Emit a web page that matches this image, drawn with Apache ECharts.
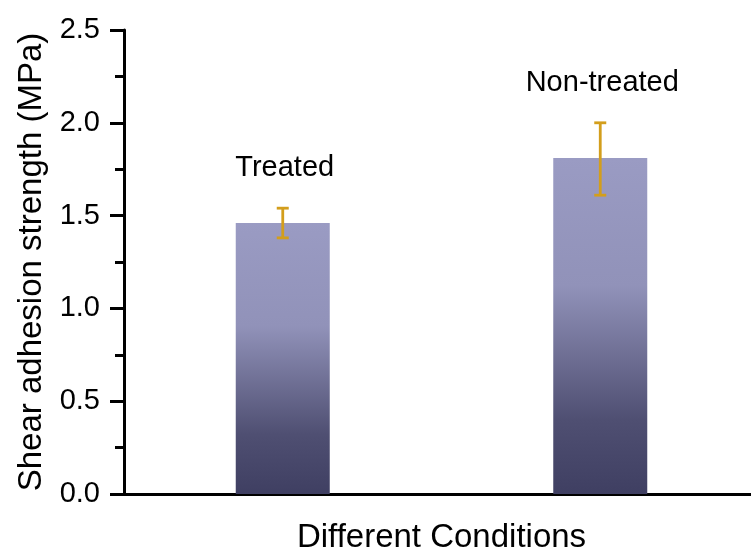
<!DOCTYPE html>
<html>
<head>
<meta charset="utf-8">
<script src="https://cdn.jsdelivr.net/npm/echarts@6/dist/echarts.min.js"></script>
<style>
  html, body { margin: 0; padding: 0; background: #ffffff; }
  #chart { width: 751px; height: 556px; }
</style>
</head>
<body>
<div id="chart"></div>
<script>
// Shear adhesion strength per surface condition
const categories = ['Treated', 'Non-treated'];
const strength = [1.46, 1.81];
const errLow = [1.38, 1.61];
const errHigh = [1.54, 2.00];
const yTicks = [0, 0.5, 1.0, 1.5, 2.0, 2.5];

const FONT = '"Liberation Sans", Arial, sans-serif';

const chart = echarts.init(document.getElementById('chart'), null, { renderer: 'canvas' });

const barGradient = new echarts.graphic.LinearGradient(0, 0, 0, 1, [
  { offset: 0, color: '#9a9bc3' },
  { offset: 0.38, color: '#9192b9' },
  { offset: 0.78, color: '#4f4f72' },
  { offset: 1, color: '#3f3f62' }
]);

chart.setOption({
  backgroundColor: '#ffffff',
  animation: false,
  grid: { left: 124, right: -8, top: 30, bottom: 62, containLabel: false, outerBoundsMode: 'none' },
  xAxis: {
    type: 'category',
    data: categories,
    name: 'Different Conditions',
    nameLocation: 'middle',
    nameGap: 27,
    nameTextStyle: { fontFamily: FONT, fontSize: 33, color: '#000' },
    axisLine: { lineStyle: { color: '#000', width: 3 } },
    axisTick: { show: false },
    axisLabel: { show: false },
    splitLine: { show: false }
  },
  yAxis: {
    type: 'value',
    min: yTicks[0],
    max: yTicks[yTicks.length - 1],
    interval: 0.5,
    name: 'Shear adhesion strength (MPa)',
    nameLocation: 'middle',
    nameRotate: 90,
    nameGap: 76,
    nameTextStyle: { fontFamily: FONT, fontSize: 33, color: '#000' },
    axisLine: { show: true, lineStyle: { color: '#000', width: 3 } },
    axisTick: { show: true, inside: false, length: 14, lineStyle: { color: '#000', width: 3 } },
    minorTick: { show: true, splitNumber: 2, length: 9, lineStyle: { color: '#000', width: 3 } },
    axisLabel: {
      fontFamily: FONT, fontSize: 29, color: '#000', margin: 24,
      formatter: v => v.toFixed(1)
    },
    splitLine: { show: false },
    minorSplitLine: { show: false }
  },
  series: [
    {
      type: 'bar',
      data: strength,
      barWidth: 94,
      itemStyle: { color: barGradient }
    },
    {
      type: 'custom',
      data: categories.map((c, i) => [i, errLow[i], errHigh[i]]),
      z: 5,
      renderItem: function (params, api) {
        const i = api.value(0);
        const lo = api.coord([i, api.value(1)]);
        const hi = api.coord([i, api.value(2)]);
        const cap = 6;
        const style = { stroke: '#d39e1c', lineWidth: 2.8 };
        return {
          type: 'group',
          children: [
            { type: 'line', shape: { x1: hi[0], y1: hi[1], x2: lo[0], y2: lo[1] }, style },
            { type: 'line', shape: { x1: hi[0] - cap, y1: hi[1], x2: hi[0] + cap, y2: hi[1] }, style },
            { type: 'line', shape: { x1: lo[0] - cap, y1: lo[1], x2: lo[0] + cap, y2: lo[1] }, style },
            {
              type: 'text',
              style: {
                x: hi[0] + 2, y: hi[1] - 40,
                text: categories[i],
                fontFamily: FONT, fontSize: 29, fill: '#000',
                align: 'center', verticalAlign: 'middle'
              }
            }
          ]
        };
      }
    }
  ]
});
</script>
</body>
</html>
